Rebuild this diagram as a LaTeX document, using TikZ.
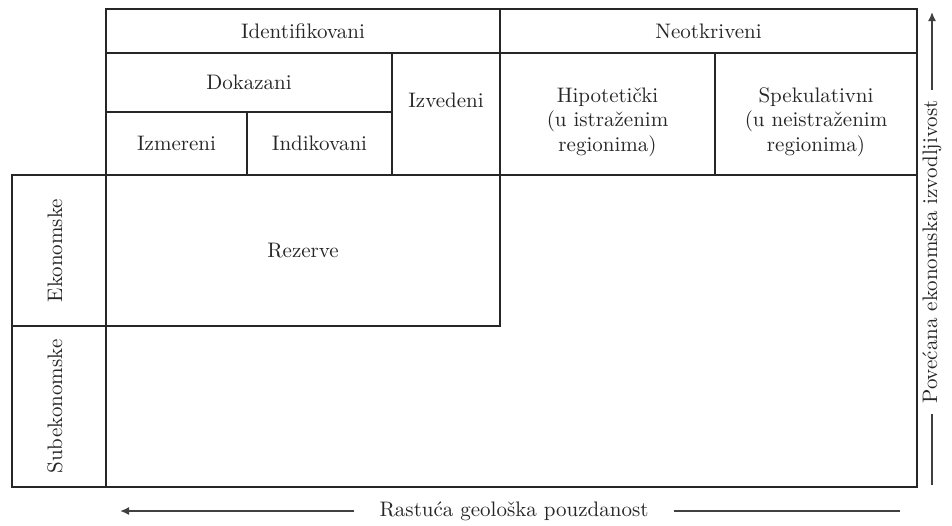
\documentclass[tikz,border=0pt]{standalone}
\usepackage{fontspec}
\setmainfont{lmroman10-regular.otf}
\usetikzlibrary{arrows.meta}
\begin{document}
\begin{tikzpicture}[x=1pt,y=-1pt,
  cell/.style={draw=black!85,line width=1.9pt,rectangle,inner sep=0pt,text=black!85,
    font=\fontsize{21}{24.5}\selectfont,align=center},
  lbl/.style={inner sep=0pt,text=black!85,font=\fontsize{21}{24.5}\selectfont},
  axis/.style={draw=black!75,line width=1.6pt}]
\useasboundingbox (0,0) rectangle (952,525);
% outer body
\node[cell,minimum width=811pt,minimum height=312pt] (body) at (511.5,331) {};
\node[cell,minimum width=394pt,minimum height=151pt] (rez) at (303,250.5) {Rezerve};
% headers
\node[cell,minimum width=394pt,minimum height=44pt] (ident) at (303,31) {Identifikovani};
\node[cell,minimum width=417pt,minimum height=44pt] (neot) at (708.5,31) {Neotkriveni};
\node[cell,minimum width=286pt,minimum height=59pt] (dokaz) at (249,82.5) {Dokazani};
\node[cell,minimum width=141pt,minimum height=63pt] (izm) at (176.5,143.5) {Izmereni};
\node[cell,minimum width=145pt,minimum height=63pt] (indik) at (319.5,143.5) {Indikovani};
\node[cell,minimum width=108pt,minimum height=122pt] (izved) at (446,114) {};
\node[lbl] (izvedt) at (446,100) {Izvedeni};
\node[cell,minimum width=215pt,minimum height=122pt] (hipo) at (607.5,114) {};
\node[lbl,align=center] (hipot) at (607.5,122) {Hipotetički\\(u istraženim\\regionima)};
\node[cell,minimum width=202pt,minimum height=122pt] (spek) at (816,114) {};
\node[lbl,align=center] (spekt) at (816,122) {Spekulativni\\(u neistraženim\\regionima)};
% left column
\node[cell,minimum width=94pt,minimum height=151pt] (ekon) at (59,250.5) {};
\node[lbl,rotate=90] (ekont) at (55,250.5) {Ekonomske};
\node[cell,minimum width=94pt,minimum height=161pt] (subek) at (59,406.5) {};
\node[lbl,rotate=90] (subekt) at (55,406.5) {Subekonomske};
% bottom axis
\node[lbl] (geo) at (514,511) {Rastuća geološka pouzdanost};
\coordinate (gl) at (120,511);
\coordinate (gr) at (900,511);
\draw[axis,-{Latex[length=9pt,width=8pt]}] (geo.west) ++(-25,0) -- (gl);
\draw[axis] (geo.east) ++(25,0) -- (gr);
% right axis
\node[lbl,rotate=90] (eko) at (932,252) {Povećana ekonomska izvodljivost};
\coordinate (et) at (932,12);
\coordinate (eb) at (932,485);
\draw[axis,-{Latex[length=9pt,width=8pt]}] (eko.east) ++(0,-10) -- (et);
\draw[axis] (eko.west) ++(0,10) -- (eb);
\end{tikzpicture}
\end{document}
